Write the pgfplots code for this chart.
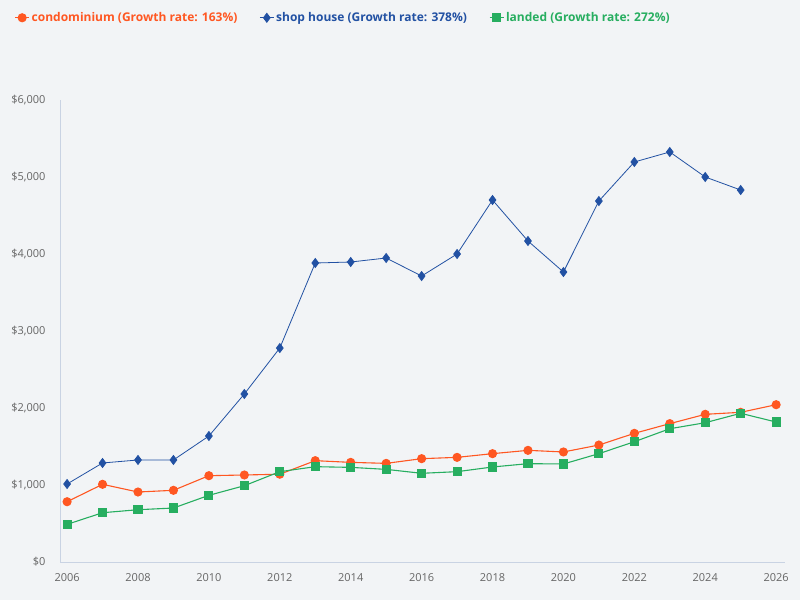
\documentclass[border=0pt]{standalone}
\usepackage{pgfplots}
\pgfplotsset{compat=1.18}
\usepackage{fontspec}
\setmainfont{Open Sans}

\definecolor{bgc}{HTML}{F2F4F6}
\definecolor{axc}{HTML}{C9D3E3}
\definecolor{tickc}{HTML}{666666}
\definecolor{condo}{HTML}{FF5722}
\definecolor{shop}{HTML}{2251A3}
\definecolor{landed}{HTML}{27AE60}

\pgfplotstableread{
year condo
2006 783
2007 1009
2008 909
2009 931
2010 1121
2011 1130
2012 1140
2013 1316
2014 1294
2015 1281
2016 1342
2017 1359
2018 1407
2019 1450
2020 1429
2021 1519
2022 1671
2023 1797
2024 1918
2025 1944
2026 2043
}\condotable

\pgfplotstableread{
year shop
2006 1013
2007 1286
2008 1325
2009 1325
2010 1636
2011 2182
2012 2779
2013 3883
2014 3896
2015 3948
2016 3714
2017 4000
2018 4701
2019 4169
2020 3766
2021 4688
2022 5195
2023 5325
2024 5000
2025 4831
}\shoptable

\pgfplotstableread{
year landed
2006 489
2007 640
2008 679
2009 701
2010 866
2011 991
2012 1173
2013 1238
2014 1229
2015 1203
2016 1152
2017 1173
2018 1234
2019 1277
2020 1273
2021 1407
2022 1562
2023 1731
2024 1809
2025 1931
2026 1818
}\landedtable

\begin{document}
\begin{tikzpicture}
\fill[bgc] (0pt,0pt) rectangle (800pt,600pt);
\path[use as bounding box] (0pt,0pt) rectangle (800pt,600pt);
\begin{axis}[
  at={(60pt,38pt)}, anchor=south west,
  scale only axis,
  width=725pt, height=462pt,
  xmin=2005.8, xmax=2026.25,
  ymin=0, ymax=6000,
  axis x line*=bottom, axis y line*=left,
  axis line style={draw=axc, line width=0.8pt, -},
  major tick length=0pt,
  xtick={2006,2008,...,2026},
  ytick={0,1000,...,6000},
  yticklabels={\$0,{\$1,000},{\$2,000},{\$3,000},{\$4,000},{\$5,000},{\$6,000}},
  xticklabel style={/pgf/number format/1000 sep={}, /pgf/number format/assume math mode=true, font=\fontsize{11}{13}\selectfont, text=tickc, yshift=-8pt},
  yticklabel style={font=\fontsize{11}{13}\selectfont, text=tickc, xshift=-11pt},
  legend columns=3,
  legend style={at={(-0.067,1.178)}, anchor=west, draw=none, fill=none,
    font=\bfseries\fontsize{12}{14}\selectfont,
    /tikz/every even column/.append style={column sep=20pt}},
  legend image code/.code={\draw[mark repeat=2,mark phase=2,#1] plot coordinates {(0pt,0pt)(7pt,0pt)(14pt,0pt)};},
]
\addplot[condo, line width=1.1pt, mark=*, mark size=4pt] table[x=year,y=condo] {\condotable};
\addlegendentry{\textcolor{condo}{condominium (Growth rate: 163\%)}}
\addplot[shop, line width=0.8pt, mark=diamond*, mark size=4.5pt] table[x=year,y=shop] {\shoptable};
\addlegendentry{\textcolor{shop}{shop house (Growth rate: 378\%)}}
\addplot[landed, line width=1.1pt, mark=square*, mark size=4pt] table[x=year,y=landed] {\landedtable};
\addlegendentry{\textcolor{landed}{landed (Growth rate: 272\%)}}
\end{axis}
\end{tikzpicture}
\end{document}
